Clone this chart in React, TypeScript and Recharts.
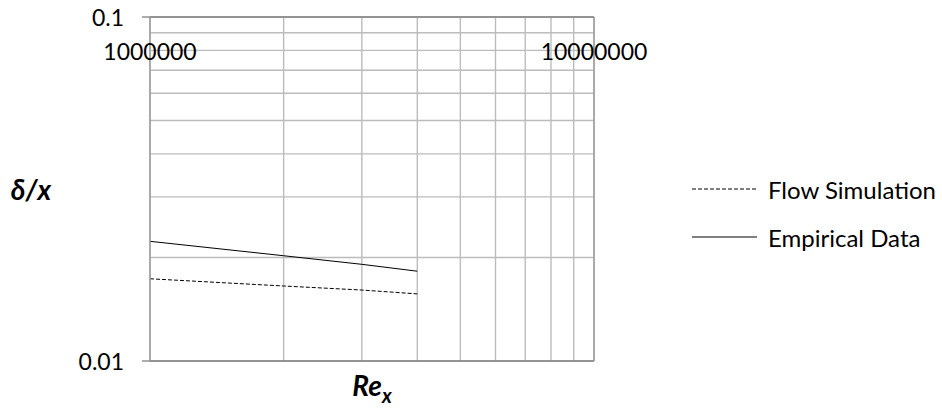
import {
  LineChart,
  Line,
  XAxis,
  YAxis,
  CartesianGrid,
  ReferenceLine,
  Legend,
  Label,
} from "recharts";

const reynolds = [1000000, 2000000, 3000000, 4000000];
const flowSimulation = [0.01734, 0.01652, 0.01608, 0.01567];
const empiricalData = [0.02228, 0.02023, 0.0191, 0.01824];

const xTicks = [
  1000000, 2000000, 3000000, 4000000, 5000000, 6000000, 7000000, 8000000,
  9000000, 10000000,
];
const yTicks = [0.01, 0.02, 0.03, 0.04, 0.05, 0.06, 0.07, 0.08, 0.09, 0.1];
const xLabelled = [1000000, 10000000];
const yLabelled = [0.01, 0.1];

const FONT = "Lato, 'Noto Sans', sans-serif";
const AXIS = "#808080";
const GRID = "#bcbcbc";

// plot box inside the svg
const LEFT = 150;
const TOP = 17;
const RIGHT = 594;
const BOTTOM = 361;

const data = reynolds.map((re, i) => ({
  re,
  flow: flowSimulation[i],
  empirical: empiricalData[i],
}));

const XTick = (props: any) => {
  const { x, payload } = props;
  if (!xLabelled.includes(payload.value)) return <g />;
  return (
    <text
      x={x}
      y={TOP + 34}
      textAnchor="middle"
      dominantBaseline="central"
      fontFamily={FONT}
      fontSize={23}
      fill="#000"
    >
      {String(payload.value)}
    </text>
  );
};

const YTick = (props: any) => {
  const { y, payload } = props;
  if (!yLabelled.includes(payload.value)) return <g />;
  return (
    <g>
      <line x1={LEFT - 8} x2={LEFT} y1={y} y2={y} stroke={AXIS} strokeWidth={1.3} />
      <text
        x={LEFT - 26}
        y={y}
        textAnchor="end"
        dominantBaseline="central"
        fontFamily={FONT}
        fontSize={23}
        fill="#000"
      >
        {String(payload.value)}
      </text>
    </g>
  );
};

const LegendBox = () => {
  const items = [
    { name: "Flow Simulation", dash: "4 2" },
    { name: "Empirical Data", dash: undefined },
  ];
  return (
    <div style={{ fontFamily: FONT, fontSize: 24, color: "#000" }}>
      {items.map((it) => (
        <div
          key={it.name}
          style={{ display: "flex", alignItems: "center", height: 48 }}
        >
          <svg width={65} height={4} style={{ marginRight: 11 }}>
            <line
              x1={0}
              x2={65}
              y1={2}
              y2={2}
              stroke="#000"
              strokeWidth={1}
              strokeDasharray={it.dash}
            />
          </svg>
          <span>{it.name}</span>
        </div>
      ))}
    </div>
  );
};

export default function App() {
  return (
    <div style={{ position: "absolute", left: 0, top: 0 }}>
      <LineChart
        width={942}
        height={408}
        data={data}
        margin={{
          top: TOP - 1,
          left: LEFT - 1,
          right: 942 - RIGHT,
          bottom: 408 - BOTTOM,
        }}
      >
        <CartesianGrid stroke={GRID} strokeWidth={1.4} />
        <XAxis
          dataKey="re"
          type="number"
          scale="log"
          domain={[1000000, 10000000]}
          ticks={xTicks}
          interval={0}
          orientation="top"
          tickLine={false}
          axisLine={{ stroke: AXIS, strokeWidth: 1.3 }}
          tick={<XTick />}
          height={1}
        >
          <Label
            content={() => (
              <text
                x={(LEFT + RIGHT) / 2}
                y={396}
                textAnchor="middle"
                fontFamily={FONT}
                fontWeight="bold"
                fontStyle="italic"
                fontSize={28}
                fill="#000"
              >
                Re
                <tspan fontSize={20} dy={7}>
                  x
                </tspan>
              </text>
            )}
          />
        </XAxis>
        <YAxis
          type="number"
          scale="log"
          domain={[0.01, 0.1]}
          ticks={yTicks}
          interval={0}
          allowDataOverflow
          tickLine={false}
          axisLine={{ stroke: "#9a9a9a", strokeWidth: 1.4 }}
          tick={<YTick />}
          width={1}
        >
          <Label
            content={() => (
              <text
                x={31}
                y={(TOP + BOTTOM) / 2}
                textAnchor="middle"
                dominantBaseline="central"
                fontFamily={FONT}
                fontWeight="bold"
                fontStyle="italic"
                fontSize={28}
                fill="#000"
              >
                δ/x
              </text>
            )}
          />
        </YAxis>
        <ReferenceLine y={0.01} stroke={AXIS} strokeWidth={1.3} />
        <ReferenceLine x={10000000} stroke="#9a9a9a" strokeWidth={1.4} />
        <Legend
          layout="horizontal"
          verticalAlign="middle"
          content={<LegendBox />}
          wrapperStyle={{ position: "absolute", left: 692, top: 165, width: 250 }}
        />
        <Line
          dataKey="flow"
          name="Flow Simulation"
          stroke="#000"
          strokeWidth={1}
          strokeDasharray="4 2"
          dot={false}
          isAnimationActive={false}
        />
        <Line
          dataKey="empirical"
          name="Empirical Data"
          stroke="#000"
          strokeWidth={1}
          dot={false}
          isAnimationActive={false}
        />
      </LineChart>
    </div>
  );
}
